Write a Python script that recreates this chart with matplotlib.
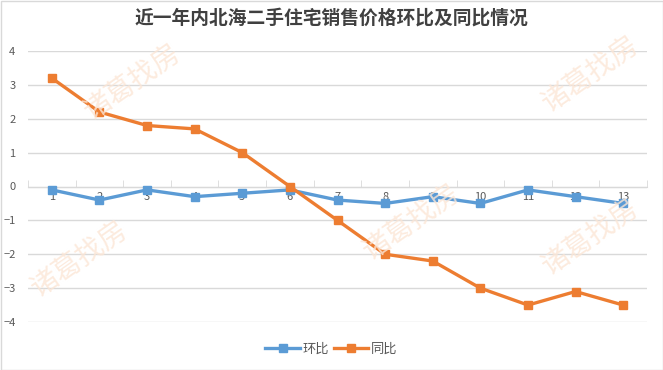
import matplotlib
matplotlib.use("Agg")
import matplotlib.pyplot as plt
from matplotlib.patches import Rectangle

plt.rcParams['font.family'] = ['Noto Sans CJK SC', 'DejaVu Sans']

# --- data ---
months = [1, 2, 3, 4, 5, 6, 7, 8, 9, 10, 11, 12, 13]
mom = [-0.1, -0.4, -0.1, -0.3, -0.2, -0.1, -0.4, -0.5, -0.3, -0.5, -0.1, -0.3, -0.5]   # 环比
yoy = [3.2, 2.2, 1.8, 1.7, 1.0, 0.0, -1.0, -2.0, -2.2, -3.0, -3.5, -3.1, -3.5]         # 同比
y_ticks = [-4, -3, -2, -1, 0, 1, 2, 3, 4]
title = '近一年内北海二手住宅销售价格环比及同比情况'

blue = '#5B9BD5'
orange = '#ED7D31'
grey_txt = '#595959'

fig = plt.figure(figsize=(6.63, 3.70), dpi=100)
ax = fig.add_axes([28 / 663, 1 - 322 / 370, (647 - 28) / 663, (322 - 51) / 370])

# watermark (kept inside the figure)
for (wx, wy) in [(0.20, 0.78), (0.62, 0.40), (0.12, 0.30), (0.89, 0.80), (0.89, 0.36)]:
    fig.text(wx, wy, '诸葛找房', fontsize=20, color='#FCE6D6', rotation=35,
             ha='center', va='center', alpha=0.8, zorder=0)

ax.plot(months, mom, color=blue, lw=2.4, marker='s', ms=6, label='环比', zorder=3)
ax.plot(months, yoy, color=orange, lw=2.4, marker='s', ms=6, label='同比', zorder=4)

ax.set_xlim(0.5, 13.5)
ax.set_ylim(-4, 4)
ax.set_yticks(y_ticks)
ax.yaxis.grid(True, color='#D9D9D9', lw=1)
ax.set_axisbelow(True)
ax.patch.set_alpha(0)

for s in ['top', 'right', 'left']:
    ax.spines[s].set_visible(False)
ax.spines['bottom'].set_position(('data', 0))
ax.spines['bottom'].set_color('#D9D9D9')

ax.set_xticks(months)
ax.set_xticks([m + 0.5 for m in [0] + months], minor=True)
ax.tick_params(axis='x', which='major', length=0, labelsize=8, labelcolor=grey_txt, pad=4)
ax.tick_params(axis='x', which='minor', length=5, direction='in', color='#D9D9D9')
ax.tick_params(axis='y', length=0, labelsize=8, labelcolor=grey_txt, pad=9)

fig.text(0.5, 0.95, title, ha='center', va='center', fontsize=13.5, fontweight='bold', color='#404040')

fig.legend(loc='center', bbox_to_anchor=(0.5, 0.057), ncol=2, frameon=False,
           fontsize=9.5, labelcolor=grey_txt, handlelength=2.6, handletextpad=0.2,
           columnspacing=0.4)

fig.patches.append(Rectangle((0.5 / 663, 0.5 / 370), 1 - 1 / 663, 1 - 1 / 370,
                             transform=fig.transFigure, fill=False, ec='#D9D9D9', lw=1))

fig.savefig('out.png', dpi=100)
